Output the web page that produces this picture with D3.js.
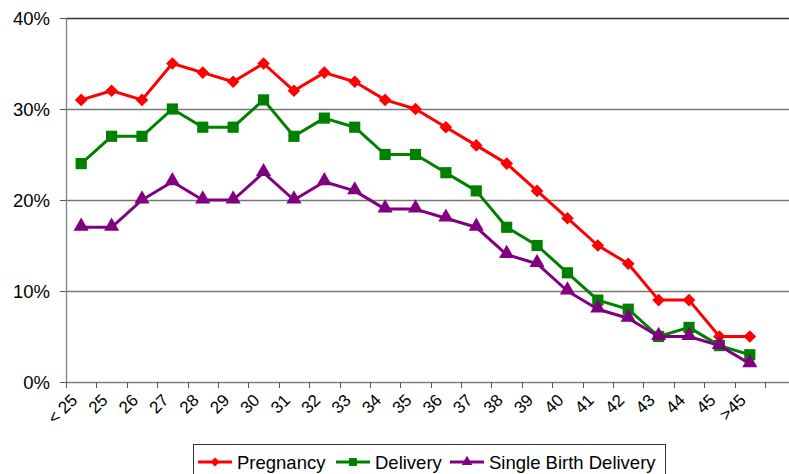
<!DOCTYPE html>
<html>
<head>
<meta charset="utf-8">
<script src="https://cdn.jsdelivr.net/npm/d3@7"></script>
<style>
  body { margin: 0; background: #fff; }
  text { font-family: "Liberation Sans", Arial, sans-serif; fill: #000; }
</style>
</head>
<body>
<script>
// categories (age groups) and series values in percent
var categories = ["< 25","25","26","27","28","29","30","31","32","33","34","35","36","37","38","39","40","41","42","43","44","45",">45"];
var pregnancy = [31,32,31,35,34,33,35,32,34,33,31,30,28,26,24,21,18,15,13,9,9,5,5];
var delivery  = [24,27,27,30,28,28,31,27,29,28,25,25,23,21,17,15,12,9,8,5,6,4,3];
var singleBirth = [17,17,20,22,20,20,23,20,22,21,19,19,18,17,14,13,10,8,7,5,5,4,2];
var yTicks = [0,10,20,30,40];

// marker: symbol type, size, rotation, y shift
var series = [
  {name: "Pregnancy", values: pregnancy, color: "#ff0000", symbol: d3.symbolSquare, size: 80, rot: 45, dy: 0},
  {name: "Delivery", values: delivery, color: "#008000", symbol: d3.symbolSquare, size: 125, rot: 0, dy: 0},
  {name: "Single Birth Delivery", values: singleBirth, color: "#800080", symbol: d3.symbolTriangle, size: 100, rot: 0, dy: -1}
];

var W = 789, H = 474;
var plotLeft = 66, plotRight = 765, edgeRight = 789, plotTop = 18, plotBottom = 382;

var svg = d3.select("body").append("svg")
    .attr("width", W)
    .attr("height", H);

var x = d3.scaleBand().domain(categories).range([plotLeft, plotRight]);
var y = d3.scaleLinear().domain([0, 40]).range([plotBottom, plotTop]);

// gridlines
svg.append("g").selectAll("line")
    .data(yTicks.filter(function(d){ return d > 0; }))
    .enter().append("line")
    .attr("x1", plotLeft).attr("x2", edgeRight)
    .attr("y1", function(d){ return Math.round(y(d)) + 0.5; })
    .attr("y2", function(d){ return Math.round(y(d)) + 0.5; })
    .attr("stroke", function(d){ return d == 40 ? "#333" : "#777"; })
    .attr("stroke-width", 1.3);

// y axis
svg.append("line")
    .attr("x1", plotLeft + 0.5).attr("x2", plotLeft + 0.5)
    .attr("y1", plotTop).attr("y2", plotBottom)
    .attr("stroke", "#808080").attr("stroke-width", 1.3);

svg.append("g").selectAll("line")
    .data(yTicks)
    .enter().append("line")
    .attr("x1", plotLeft - 6).attr("x2", plotLeft)
    .attr("y1", function(d){ return Math.round(y(d)) + 0.5; })
    .attr("y2", function(d){ return Math.round(y(d)) + 0.5; })
    .attr("stroke", "#555");

svg.append("g").selectAll("text")
    .data(yTicks)
    .enter().append("text")
    .attr("x", 50)
    .attr("y", function(d){ return y(d); })
    .attr("dy", "0.36em")
    .attr("text-anchor", "end")
    .style("font-size", "18.5px")
    .text(function(d){ return d + "%"; });

// x axis
svg.append("line")
    .attr("x1", plotLeft).attr("x2", edgeRight)
    .attr("y1", plotBottom + 0.5).attr("y2", plotBottom + 0.5)
    .attr("stroke", "#808080").attr("stroke-width", 1.3);

var bounds = categories.map(function(c){ return x(c); }).concat([plotRight]);
svg.append("g").selectAll("line")
    .data(bounds)
    .enter().append("line")
    .attr("x1", function(d){ return Math.round(d) + 0.5; })
    .attr("x2", function(d){ return Math.round(d) + 0.5; })
    .attr("y1", plotBottom).attr("y2", plotBottom + 6)
    .attr("stroke", "#555");

svg.append("g").selectAll("text")
    .data(categories)
    .enter().append("text")
    .attr("transform", function(d){
        var cx = x(d) + x.bandwidth() / 2 - 7;
        return "translate(" + cx + "," + 397 + ") rotate(-45)";
    })
    .attr("dy", "0.35em")
    .attr("text-anchor", "end")
    .style("font-size", "17px")
    .text(function(d){ return d; });

// lines and markers
var line = d3.line()
    .x(function(d, i){ return x(categories[i]) + x.bandwidth() / 2; })
    .y(function(d){ return y(d); });

series.forEach(function(s){
    svg.append("path")
        .datum(s.values)
        .attr("d", line)
        .attr("fill", "none")
        .attr("stroke", s.color)
        .attr("stroke-width", 3)
        .attr("stroke-linejoin", "round");

    svg.append("g").selectAll("path")
        .data(s.values)
        .enter().append("path")
        .attr("transform", function(d, i){
            return "translate(" + (x(categories[i]) + x.bandwidth() / 2) + "," + (y(d) + s.dy) + ") rotate(" + s.rot + ")";
        })
        .attr("d", d3.symbol().type(s.symbol).size(s.size))
        .attr("fill", s.color);
});

// legend
var legend = svg.append("g");
legend.append("rect")
    .attr("x", 193.5).attr("y", 444.5)
    .attr("width", 472).attr("height", 40)
    .attr("fill", "#fff")
    .attr("stroke", "#333");

var legendX = [198, 336, 450];
series.forEach(function(s, i){
    var lx = legendX[i], ly = 462;
    legend.append("line")
        .attr("x1", lx).attr("x2", lx + 34)
        .attr("y1", ly).attr("y2", ly)
        .attr("stroke", s.color).attr("stroke-width", 3);
    legend.append("path")
        .attr("transform", "translate(" + (lx + 17) + "," + ly + ") rotate(" + s.rot + ")")
        .attr("d", d3.symbol().type(s.symbol).size(s.size * 0.5))
        .attr("fill", s.color);
    legend.append("text")
        .attr("x", lx + 39).attr("y", ly)
        .attr("dy", "0.36em")
        .style("font-size", "18.5px")
        .text(s.name);
});
</script>
</body>
</html>
